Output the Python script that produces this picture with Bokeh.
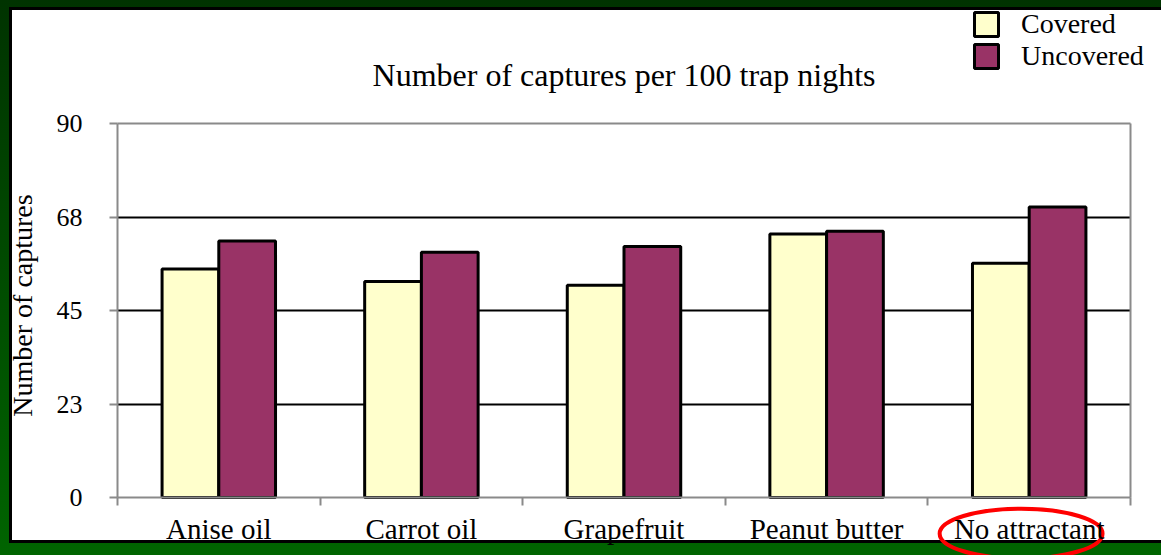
import numpy as np
from bokeh.plotting import figure
from bokeh.models import (Range1d, FixedTicker, Legend, LegendItem, LinearAxis, Label,
                          GlobalInlineStyleSheet)
from bokeh.embed import file_html
from bokeh.resources import INLINE

# ---- data ----
categories = ["Anise oil", "Carrot oil", "Grapefruit", "Peanut butter", "No attractant"]
covered = [55.0, 52.0, 51.1, 63.4, 56.4]
uncovered = [61.7, 59.0, 60.4, 64.1, 69.9]
series_names = ["Covered", "Uncovered"]
y_ticks = [0, 22.5, 45, 67.5, 90]
y_tick_labels = ["0", "23", "45", "68", "90"]
highlight = "No attractant"
title_text = "Number of captures per 100 trap nights"
y_title = "Number of captures"

FONT = "Liberation Serif"
AXIS_GRAY = "#8a8a8a"
W, H = 1161, 555

# ---- layout geometry (pixels) ----
# plot box: left 117, right 1130, top 123 (value 90), bottom 497 (value 0)
n = len(categories)
px_x = (1130 - 117) / n          # pixels per category
px_y = (497 - 123) / y_ticks[-1]  # pixels per unit
x_rng = Range1d(-117 / px_x, n + (W - 1130) / px_x)
y_rng = Range1d(-(H - 497) / px_y, y_ticks[-1] + 123 / px_y)

# the frame fills the page so that legend, title and the highlight ring can all be
# drawn; axes are pinned to the plot box with fixed_location / bounds
p = figure(width=W, height=H, x_range=x_rng, y_range=y_rng,
           output_backend="svg", toolbar_location=None, title_location=None,
           min_border_left=0, min_border_right=0, min_border_top=0, min_border_bottom=0)

# slide-like backdrop: green frame, thin black rule, white card
p.stylesheets = [GlobalInlineStyleSheet(css=
    "html { height: 100%; background:"
    " linear-gradient(#ffffff, #ffffff) 12px 10px / 1149px 530px no-repeat,"
    " linear-gradient(#000000, #000000) 9px 7px / 1152px 536px no-repeat,"
    " linear-gradient(to bottom, #003300, #006400); }"
    "body { background: transparent; }")]

p.background_fill_alpha = 0
p.border_fill_alpha = 0
p.outline_line_color = None

centers = np.arange(n) + 0.5
r_cov = p.vbar(x=centers - 0.14, top=covered, bottom=0, width=0.28,
               fill_color="#FFFFCC", line_color="black", line_width=3)
r_unc = p.vbar(x=centers + 0.14, top=uncovered, bottom=0, width=0.28,
               fill_color="#993366", line_color="black", line_width=3)

# x axis at y = 0
xa = p.xaxis[0]
xa.fixed_location = 0
xa.bounds = (0, n)
xa.ticker = FixedTicker(ticks=list(centers), minor_ticks=list(range(n + 1)))
xa.major_label_overrides = {float(c): lab for c, lab in zip(centers, categories)}
xa.major_tick_line_color = None
xa.minor_tick_line_color = AXIS_GRAY
xa.minor_tick_line_width = 2
xa.minor_tick_out = 8
xa.minor_tick_in = 0
xa.axis_line_color = AXIS_GRAY
xa.axis_line_width = 2
xa.major_label_text_font = FONT
xa.major_label_text_font_size = "29px"
xa.major_label_text_color = "black"
xa.major_label_standoff = 7

# y axis at x = 0
ya = p.yaxis[0]
ya.fixed_location = 0
ya.bounds = (0, y_ticks[-1])
ya.ticker = FixedTicker(ticks=y_ticks, minor_ticks=[])
ya.major_label_overrides = {t: lab for t, lab in zip(y_ticks, y_tick_labels)}
ya.major_tick_line_color = AXIS_GRAY
ya.major_tick_line_width = 2
ya.major_tick_out = 8
ya.major_tick_in = 0
ya.minor_tick_line_color = None
ya.axis_line_color = AXIS_GRAY
ya.axis_line_width = 2
ya.major_label_text_font = FONT
ya.major_label_text_font_size = "26px"
ya.major_label_text_color = "black"
ya.major_label_standoff = 27

# plain rules closing the plot box at the top and right
top_rule = LinearAxis(ticker=FixedTicker(ticks=[]), axis_line_color=AXIS_GRAY,
                      axis_line_width=2, major_tick_line_color=None,
                      minor_tick_line_color=None, fixed_location=y_ticks[-1], bounds=(0, n))
right_rule = LinearAxis(ticker=FixedTicker(ticks=[]), axis_line_color=AXIS_GRAY,
                        axis_line_width=2, major_tick_line_color=None,
                        minor_tick_line_color=None, fixed_location=n,
                        bounds=(0, y_ticks[-1]))
p.add_layout(top_rule, "above")
p.add_layout(right_rule, "right")

# grid
p.xgrid.grid_line_color = None
p.ygrid.ticker = FixedTicker(ticks=y_ticks[1:-1])
p.ygrid.grid_line_color = "black"
p.ygrid.grid_line_width = 2
try:
    p.ygrid.cross_bounds = (0, n)
except Exception:
    p.ygrid.visible = False
    gy = y_ticks[1:-1]
    p.segment(x0=[0] * len(gy), x1=[n] * len(gy), y0=gy, y1=gy,
              line_color="black", line_width=2)

# title and y-axis title
p.add_layout(Label(x=n / 2, y=y_ticks[-1] + (123 - 74) / px_y, text=title_text,
                   text_align="center", text_baseline="alphabetic",
                   text_font=FONT, text_font_size="32px", text_color="black"))
p.add_layout(Label(x=-(117 - 22) / px_x, y=(497 - 305) / px_y, text=y_title,
                   angle=90, angle_units="deg", text_align="center",
                   text_baseline="alphabetic",
                   text_font=FONT, text_font_size="28px", text_color="black"))

# legend (location = bottom-left corner, in pixels from the frame's bottom-left)
legend = Legend(items=[LegendItem(label=series_names[0], renderers=[r_cov]),
                       LegendItem(label=series_names[1], renderers=[r_unc])],
                location=(971, H - 72), orientation="vertical",
                glyph_width=30, glyph_height=30, label_standoff=20, spacing=0,
                padding=0, margin=0, border_line_alpha=0, background_fill_alpha=0,
                label_text_font=FONT, label_text_font_size="28px", label_height=28,
                label_text_color="black")
p.add_layout(legend)

# red highlight ring around the highlighted category label
hi = categories.index(highlight) + 0.5 - 0.04
p.ellipse(x=[hi], y=[-8.7], width=0.804, height=12.0,
          fill_alpha=0, line_color="#ff0000", line_width=4)

open("out.html", "w").write(file_html(p, INLINE))
